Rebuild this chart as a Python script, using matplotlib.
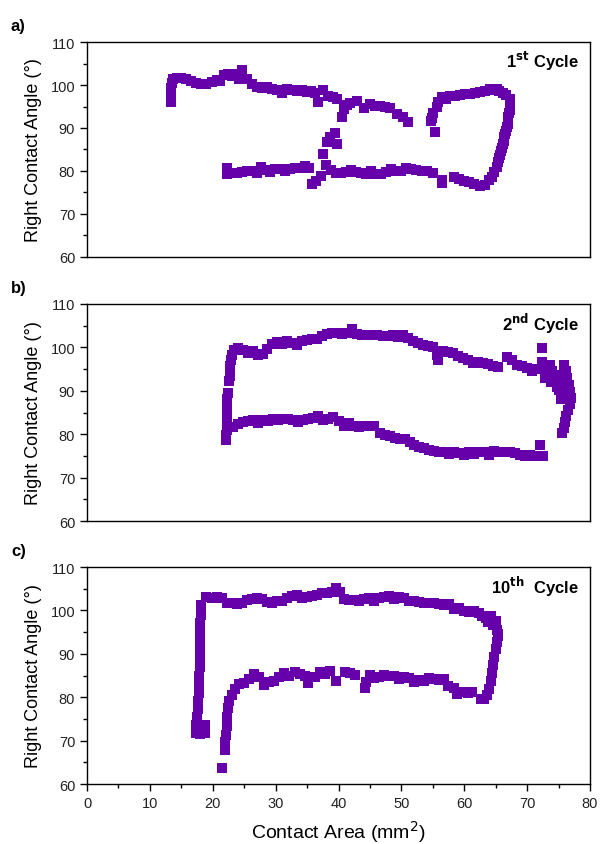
import numpy as np
import matplotlib
matplotlib.use("Agg")
import matplotlib.pyplot as plt
from matplotlib.ticker import MultipleLocator

plt.rcParams['font.family'] = ['Liberation Sans', 'DejaVu Sans']

# 1st cycle: contact area (mm^2) and right contact angle (deg)
area_1 = [13.3, 13.3, 13.4, 13.4, 13.5, 13.7, 14.3, 15.0, 15.8, 16.6, 17.4, 18.2,
          19.0, 19.8, 20.6, 21.2, 21.8, 22.4, 23.0, 23.6, 24.2, 24.6, 25.4, 26.2,
          27.0, 27.8, 28.6, 29.4, 30.2, 31.0, 31.8, 32.6, 33.4, 34.2, 35.0, 35.6,
          36.2, 36.8, 37.6, 38.4, 39.2, 39.8,
          40.5, 40.8, 41.4, 41.9, 42.9, 44.0, 45.0, 45.8, 46.6, 47.4, 48.2, 49.3,
          50.3, 51.1,
          37.6, 38.2, 38.7, 39.5, 39.7,
          22.2, 22.3, 23.0, 23.8, 24.6, 25.4, 26.2, 27.0, 27.6, 28.3, 29.1, 29.9,
          30.7, 31.5, 32.3, 33.1, 33.9, 34.6, 35.3, 35.8, 36.4, 37.2, 38.0, 38.8,
          39.6, 40.4, 41.2, 42.0, 42.8, 43.6, 44.4, 45.2, 46.0, 46.8, 47.6, 48.4,
          49.2, 50.0, 50.8, 51.6, 52.4, 53.2, 54.1, 55.1,
          56.4, 56.4, 58.3, 59.1, 59.9, 60.7, 61.5, 62.5, 63.3,
          64.0, 64.4, 64.8, 65.2, 65.4, 65.6, 65.7, 65.9, 66.0, 66.2, 66.3, 66.4,
          66.5, 66.7, 66.8, 66.9, 67.0, 67.0, 67.1, 67.2, 67.3, 67.3, 67.2, 66.7,
          66.2,
          65.6, 65.2, 64.6, 64.1, 63.3, 62.5, 61.7, 60.9, 60.1, 59.4, 58.6, 57.8,
          57.1, 56.4, 55.9, 55.6, 55.1, 54.8, 54.7, 55.4]
angle_1 = [96.0, 97.2, 98.3, 99.4, 100.4, 101.4, 101.7, 101.6, 101.4, 101.0, 100.4, 100.2,
           100.3, 100.6, 101.2, 101.0, 102.4, 102.6, 102.0, 102.6, 101.4, 103.6, 101.5, 100.2,
           99.6, 99.4, 99.6, 99.0, 98.8, 98.1, 99.0, 98.8, 98.6, 98.8, 98.4, 98.6,
           98.2, 96.0, 98.8, 97.4, 97.2, 96.7,
           92.5, 94.4, 95.4, 95.8, 96.2, 94.6, 95.6, 95.2, 95.1, 94.9, 94.6, 93.3,
           92.5, 91.5,
           84.0, 86.7, 87.8, 88.8, 86.3,
           80.6, 79.4, 79.5, 79.6, 79.7, 79.9, 80.0, 79.6, 81.0, 80.3, 79.8, 80.4,
           80.4, 80.1, 80.5, 80.6, 80.8, 81.2, 80.6, 77.0, 77.6, 78.8, 81.5, 80.3,
           79.6, 79.6, 79.8, 80.2, 79.8, 79.6, 79.4, 79.9, 79.3, 79.4, 79.8, 80.4,
           80.0, 80.1, 80.6, 80.4, 80.2, 80.0, 80.0, 79.6,
           78.0, 77.2, 78.6, 78.2, 77.6, 77.4, 77.0, 76.6, 76.8,
           77.8, 78.6, 79.8, 81.0, 82.1, 83.0, 83.8, 84.6, 85.4, 86.2, 87.0, 87.8,
           88.6, 89.4, 90.2, 91.0, 91.8, 92.6, 93.4, 94.2, 95.0, 96.0, 96.8, 97.6,
           98.2,
           98.6, 99.0, 98.8, 99.0, 98.6, 98.3, 98.1, 97.9, 97.8, 97.6, 97.5, 97.4,
           96.8, 97.1, 96.0, 95.0, 93.6, 92.4, 91.6, 89.0]

# 2nd cycle
area_2 = [22.6, 22.7, 22.7, 22.8, 22.9, 23.0, 23.4,
          24.0, 24.8, 25.6, 26.4, 27.2, 28.0, 28.6, 29.4, 30.2, 31.0, 31.8, 32.6,
          33.4, 34.2, 35.0, 35.8, 36.6, 37.4, 38.2, 39.0, 39.8, 40.6, 41.4, 42.2,
          43.0, 43.8, 44.6, 45.4, 46.2, 47.0, 47.8, 48.6, 49.4, 50.2, 51.0, 51.8,
          52.6, 53.4, 54.2, 55.0, 55.6, 55.9, 56.6, 57.4, 58.2, 59.0, 59.8, 60.6,
          61.4, 62.2, 63.0, 63.8, 64.6, 65.4, 66.8, 67.6, 68.4, 69.2, 70.0, 70.8,
          71.6, 72.3, 72.4, 72.8, 73.2, 73.6, 74.0, 74.4, 74.8, 75.0, 75.4, 75.8,
          76.2, 76.4, 76.6, 76.8, 77.0, 76.8, 76.5, 76.2, 76.0, 75.8, 75.6,
          72.8, 73.4, 74.0, 74.6, 75.2, 75.6, 76.0, 73.8, 74.8, 75.4,
          22.1, 22.1, 22.2, 22.2, 22.2, 22.3, 22.3, 22.3, 22.3, 22.4,
          23.2, 24.0, 24.8, 25.6, 26.4, 27.2, 28.0, 28.8, 29.6, 30.4, 31.2, 32.0,
          32.8, 33.6, 34.4, 35.2, 36.0, 36.8, 37.6, 38.4, 39.2, 40.0, 40.8, 41.6,
          42.4, 43.2, 44.0, 44.8, 45.6, 46.6, 47.4, 48.2, 49.0, 49.8, 50.6, 51.4,
          52.0, 52.8, 53.6, 54.4, 55.2, 56.0, 56.8, 57.6, 58.4, 59.2, 60.0, 60.8,
          61.6, 62.4, 63.2, 64.0, 64.8, 65.6, 66.4, 67.3, 68.0, 68.8, 69.6, 70.4,
          71.2, 72.1, 72.6]
angle_2 = [92.2, 93.4, 94.6, 95.8, 97.0, 98.2, 99.4,
           99.8, 99.4, 98.8, 99.2, 98.2, 98.4, 99.6, 100.8, 101.2, 100.8, 101.4, 100.9,
           100.6, 101.4, 101.8, 102.0, 101.9, 102.6, 103.0, 103.4, 103.2, 103.0, 103.4, 104.2,
           103.0, 102.8, 102.9, 102.8, 102.8, 102.6, 102.7, 102.9, 102.5, 102.8, 102.2, 101.4,
           101.0, 100.6, 100.4, 100.1, 98.2, 97.1, 99.2, 99.0, 98.6, 98.0, 97.6, 97.2,
           96.4, 96.6, 96.4, 96.2, 95.6, 95.4, 97.8, 97.0, 96.0, 95.6, 95.2, 94.6,
           95.0, 99.8, 96.6, 95.2, 94.0, 96.0, 93.2, 92.4, 91.6, 90.2, 89.4, 96.0,
           94.6, 93.0, 91.4, 89.8, 88.4, 87.0, 85.6, 84.2, 82.8, 81.4, 80.2,
           93.0, 95.0, 94.6, 93.6, 92.6, 91.4, 90.6, 92.0, 90.8, 88.0,
           78.6, 79.8, 81.0, 82.2, 83.4, 84.6, 85.8, 87.0, 88.2, 89.4,
           81.6, 82.4, 82.8, 83.0, 83.2, 82.6, 83.2, 83.0, 83.4, 83.2, 83.4, 83.6,
           83.2, 82.8, 83.2, 83.4, 83.8, 84.2, 83.2, 83.6, 84.0, 83.0, 81.8, 82.6,
           82.0, 81.6, 81.8, 82.0, 81.8, 80.2, 79.8, 79.6, 79.2, 78.8, 78.8, 78.2,
           77.4, 77.0, 76.8, 76.4, 76.2, 75.8, 76.0, 75.4, 75.8, 75.6, 75.2, 75.8,
           75.4, 76.0, 75.8, 75.2, 76.2, 76.0, 76.0, 75.8, 75.6, 75.2, 75.0, 75.2,
           75.0, 77.4, 75.0]

# 10th cycle
area_3 = [17.3, 17.6, 18.0, 18.4, 18.8, 18.8, 17.4, 17.5, 17.6, 17.7, 17.8, 17.8,
          17.8, 17.9, 17.9, 17.9, 18.0, 18.0, 18.0, 18.1, 18.2,
          19.0, 19.8, 20.6, 21.4, 22.2, 23.0, 23.8, 24.6, 25.4, 26.2, 27.0, 27.8,
          28.6, 29.4, 30.2, 31.0, 31.8, 32.6, 33.4, 34.2, 35.0, 35.8, 36.6, 37.4,
          38.2, 39.0, 39.6, 40.2, 40.8, 41.6, 42.4, 43.2, 44.0, 44.8, 45.6, 46.4,
          47.2, 48.0, 48.8, 49.6, 50.4, 51.2, 52.0, 52.8, 53.6, 54.4, 55.2, 56.0,
          56.8, 57.6, 58.4, 59.2, 60.0, 60.8, 61.6, 62.4, 62.8, 63.4, 63.8, 64.2,
          64.6, 65.0, 65.2, 65.4,
          65.3, 65.2, 65.0, 64.8, 64.6, 64.4, 64.2, 64.0, 63.6, 63.2,
          62.6, 61.2, 60.6, 59.6, 58.8, 58.4, 57.4, 56.8, 56.0, 55.2, 54.4, 53.6,
          52.8, 52.0, 51.2, 50.4, 49.6, 48.8, 48.0, 47.2, 46.4, 45.6, 45.0, 44.4,
          44.2, 42.6, 41.8, 41.0, 39.6, 38.6, 37.8, 37.0, 36.2, 35.2, 34.6, 33.8,
          33.0, 32.2, 31.4, 30.6, 29.8, 29.0, 28.2, 27.4, 26.6, 25.8, 25.0, 24.2,
          23.6, 23.0, 22.6, 22.4, 22.3, 22.2, 22.1, 22.0, 21.9, 21.5]
angle_3 = [71.8, 72.4, 71.6, 72.2, 71.8, 73.6, 73.6, 75.4, 77.2, 79.2, 81.0, 83.0,
           85.0, 87.0, 89.0, 91.0, 93.0, 95.0, 97.0, 99.0, 101.2,
           103.0, 102.8, 103.0, 102.8, 101.8, 101.6, 101.4, 101.8, 102.4, 102.6, 102.8, 102.6,
           102.0, 101.8, 102.2, 102.2, 102.8, 103.4, 103.6, 102.8, 103.0, 103.4, 103.6, 104.0,
           104.0, 104.3, 105.2, 104.2, 102.6, 102.4, 102.5, 102.2, 102.6, 102.8, 102.2, 102.8,
           103.2, 103.4, 102.6, 103.0, 102.8, 102.2, 102.2, 102.0, 101.8, 101.8, 101.6, 101.4,
           101.2, 101.4, 100.4, 100.6, 99.8, 99.6, 99.8, 99.4, 98.8, 98.2, 97.4, 98.6,
           96.6, 97.6, 95.6, 94.6,
           94.0, 92.8, 91.0, 89.2, 87.4, 85.6, 83.8, 82.0, 80.4, 79.6,
           79.6, 81.2, 81.0, 81.2, 80.8, 82.2, 82.6, 84.2, 84.0, 84.2, 84.4, 83.8,
           84.0, 83.6, 84.4, 84.6, 84.2, 84.8, 85.0, 85.2, 84.6, 84.4, 85.2, 83.4,
           82.2, 85.2, 85.6, 85.8, 83.8, 86.0, 85.4, 85.8, 84.6, 83.2, 84.8, 85.4,
           85.8, 85.0, 85.6, 84.6, 83.8, 83.4, 82.8, 84.6, 85.4, 84.2, 83.2, 83.0,
           81.8, 80.6, 79.2, 77.4, 75.4, 73.4, 71.4, 69.6, 67.8, 63.7]

cycles = [(area_1, angle_1), (area_2, angle_2), (area_3, angle_3)]
panel_tags = ['a)', 'b)', 'c)']
cycle_labels = [r'1$^{\mathbf{st}}$ Cycle', r'2$^{\mathbf{nd}}$ Cycle', r'10$^{\mathbf{th}}$  Cycle']

purple = '#6600aa'

fig = plt.figure(figsize=(6.06, 8.45), dpi=100)
# axes boxes in figure fractions (left, bottom, width, height)
boxes = [(0.1436, 0.6947, 0.8300, 0.2544),
         (0.1436, 0.3822, 0.8300, 0.2569),
         (0.1436, 0.0710, 0.8300, 0.2568)]

for i, ((xs, ys), box) in enumerate(zip(cycles, boxes)):
    ax = fig.add_axes(box)
    ax.scatter(xs, ys, marker='s', s=46, color=purple, linewidths=0, zorder=3)
    ax.set_xlim(0, 80)
    ax.set_ylim(60, 110)
    ax.yaxis.set_major_locator(MultipleLocator(10))
    ax.yaxis.set_minor_locator(MultipleLocator(5))
    ax.xaxis.set_major_locator(MultipleLocator(10))
    ax.xaxis.set_minor_locator(MultipleLocator(5))
    ax.tick_params(which='major', direction='out', length=5, width=1.0,
                   labelsize=10.5, labelcolor='#222222')
    ax.tick_params(which='minor', direction='out', length=3, width=1.0)
    for sp in ax.spines.values():
        sp.set_linewidth(1.0)
    if i < 2:
        ax.tick_params(axis='x', which='both', bottom=False, labelbottom=False)
    else:
        ax.set_xlabel('Contact Area (mm$^2$)', fontsize=14, labelpad=6)
    ax.set_ylabel('Right Contact Angle (°)', fontsize=13, labelpad=6)
    ax.text(0.978, 0.915, cycle_labels[i], transform=ax.transAxes,
            ha='right', va='center', fontsize=12, fontweight='bold')
    fig.text(0.018, box[1] + box[3] + 0.020, panel_tags[i],
             fontsize=12, fontweight='bold', ha='left', va='center')

fig.savefig('out.png', dpi=100)
